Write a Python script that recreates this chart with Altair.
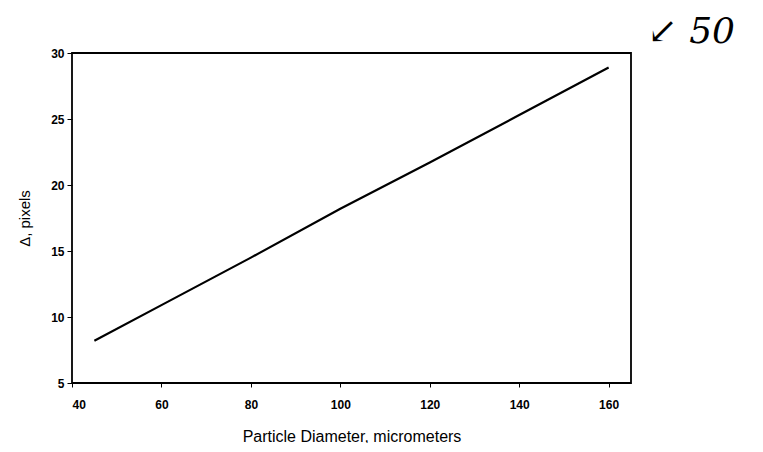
import altair as alt
import pandas as pd

diameter = [45, 60, 80, 100, 120, 140, 160]
delta_px = [8.2, 10.9, 14.5, 18.2, 21.7, 25.3, 28.9]
x_ticks = [40, 60, 80, 100, 120, 140, 160]
y_ticks = [5, 10, 15, 20, 25, 30]

df = pd.DataFrame({"d": diameter, "delta": delta_px})

FONT = "Liberation Sans"

line = alt.Chart(df).mark_line(color="black", strokeWidth=2.2).encode(
    x=alt.X("d:Q",
            scale=alt.Scale(domain=[40, 165], nice=False, zero=False),
            axis=alt.Axis(values=x_ticks, title="Particle Diameter, micrometers",
                          grid=False, domain=False, tickColor="black", tickSize=4,
                          labelColor="black", labelFont=FONT, labelFontSize=12,
                          labelFontWeight="bold", labelPadding=12,
                          titleFont=FONT, titleFontSize=16, titleFontWeight="normal",
                          titleColor="black", titlePadding=18)),
    y=alt.Y("delta:Q",
            scale=alt.Scale(domain=[5, 30], nice=False, zero=False),
            axis=alt.Axis(values=y_ticks, title="\u0394, pixels",
                          grid=False, domain=False, tickColor="black", tickSize=5,
                          labelColor="black", labelFont=FONT, labelFontSize=12,
                          labelFontWeight="bold", labelPadding=3,
                          titleFont=FONT, titleFontSize=15, titleFontWeight="normal",
                          titleColor="black", titlePadding=18)),
)

chart = line.properties(
    width=559, height=330,
    autosize=alt.AutoSizeParams(type="none"),
    padding={"left": 64, "top": 45, "right": 120, "bottom": 60},
    title=alt.TitleParams("\u2199 50", anchor="end", fontSize=36, font="DejaVu Serif",
                          fontStyle="italic", fontWeight="normal", color="black",
                          dx=104, dy=40, offset=0, baseline="bottom"),
).configure(
    background="white",
    view=alt.ViewConfig(stroke="black", strokeWidth=1.8),
)

chart.save("out.html", embed_options={"renderer": "svg", "actions": False})
